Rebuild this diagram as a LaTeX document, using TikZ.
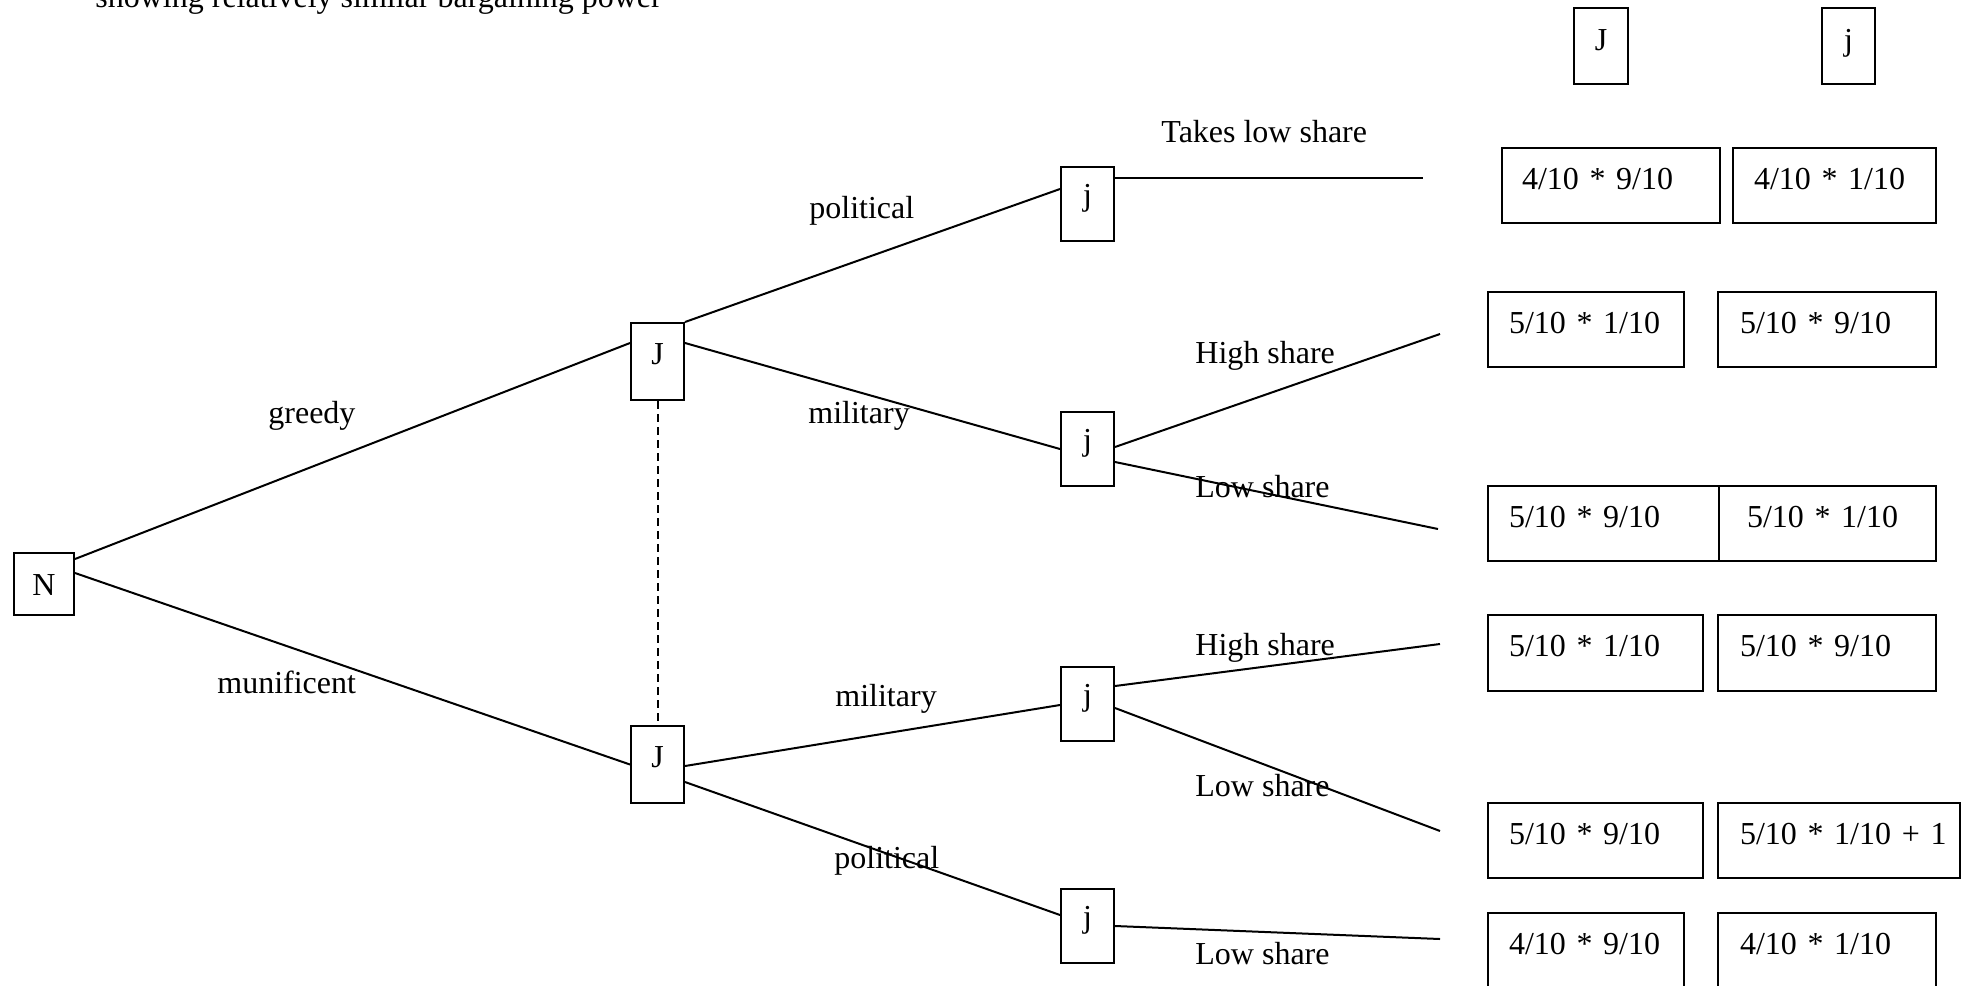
\documentclass[tikz,border=0pt]{standalone}
\usepackage{fontspec}
\setmainfont{Liberation Serif}
\usetikzlibrary{calc}
\tikzset{
  edge/.style={line width=1pt},
  infoset/.style={line width=1pt, dash pattern=on 4pt off 2.5pt},
  lbl/.style={anchor=base west, inner sep=0pt},
  player/.style={draw, line width=1pt, anchor=north west, inner sep=0pt},
  pbox/.style={player, minimum width=26.5pt, text height=20.5pt, text depth=18pt},
  jbox/.style={player, minimum width=26.5pt, text height=19pt, text depth=18pt},
  hbox/.style={player, minimum width=27pt, text height=21pt, text depth=17pt},
  pay/.style={draw, line width=1pt, anchor=north west, inner xsep=0pt, inner ysep=0pt,
    align=left, text height=20.5pt, text depth=17pt}
}
\begin{document}
\begin{tikzpicture}[x=0.5pt, y=-0.5pt, font=\fontsize{16pt}{19pt}\selectfont]
\useasboundingbox (0,0) rectangle (1964,985);
% top text
\node[lbl] (title) at (95,7) {showing relatively similar bargaining power};
% decision nodes
\node[player, minimum width=30pt, text height=21pt, text depth=10pt] (N) at (13,552) {N};
\node[pbox] (J1) at (630,322) {J};
\node[pbox] (J2) at (630,725) {J};
\node[jbox] (jPu) at (1060,166) {j};
\node[jbox] (jMu) at (1060,411) {j};
\node[jbox] (jMl) at (1060,666) {j};
\node[jbox] (jPl) at (1060,888) {j};
% header
\node[hbox] (hJ) at (1573,7) {J};
\node[hbox, minimum width=26.5pt] (hj) at (1821,7) {j};
% payoff boxes
\node[pay, text width=109pt] (r1a) at (1501,147) {\hspace*{10pt}\mbox{4/10 * 9/10}};
\node[pay, text width=101.5pt] (r1b) at (1732,147) {\hspace*{10.5pt}\mbox{4/10 * 1/10}};
\node[pay, text width=98pt] (r2a) at (1487,291) {\hspace*{10.5pt}\mbox{5/10 * 1/10}};
\node[pay, text width=109pt] (r2b) at (1717,291) {\hspace*{11pt}\mbox{5/10 * 9/10}};
\node[pay, text width=115.5pt] (r3a) at (1487,485) {\hspace*{10.5pt}\mbox{5/10 * 9/10}};
\node[pay, text width=108.5pt] (r3b) at (1718,485) {\hspace*{14pt}\mbox{5/10 * 1/10}};
\node[pay, text width=107.5pt, text depth=17.5pt] (r4a) at (1487,614) {\hspace*{10.5pt}\mbox{5/10 * 1/10}};
\node[pay, text width=109pt, text depth=17.5pt] (r4b) at (1717,614) {\hspace*{11pt}\mbox{5/10 * 9/10}};
\node[pay, text width=107.5pt] (r5a) at (1487,802) {\hspace*{10.5pt}\mbox{5/10 * 9/10}};
\node[pay, text width=121pt] (r5b) at (1717,802) {\hspace*{11pt}\mbox{5/10 * 1/10 + 1}};
\node[pay, text width=98pt] (r6a) at (1487,912) {\hspace*{10.5pt}\mbox{4/10 * 9/10}};
\node[pay, text width=109pt] (r6b) at (1717,912) {\hspace*{11pt}\mbox{4/10 * 1/10}};
% free ends
\coordinate (e1) at (1423,178);
\coordinate (e2) at (1440,334);
\coordinate (e3) at (1438,529);
\coordinate (e4) at (1440,644);
\coordinate (e5) at (1440,831);
\coordinate (e6) at (1440,939);
% edges
\draw[edge] ($(N.north east)+(0,7)$) -- ($(J1.north west)+(0,21)$);
\draw[edge] ($(N.north east)+(0,21)$) -- (J2.west);
\draw[edge] (J1.north east) -- ($(jPu.north west)+(0,23)$);
\draw[edge] ($(J1.north east)+(0,21)$) -- (jMu.west);
\draw[edge] ($(J2.north east)+(0,41)$) -- ($(jMl.north west)+(0,39)$);
\draw[edge] ($(J2.north east)+(0,57)$) -- ($(jPl.north west)+(0,27)$);
\draw[infoset] (J1.south) -- (J2.north);
\draw[edge] ($(jPu.north east)+(0,12)$) -- (e1);
\draw[edge] ($(jMu.north east)+(0,36)$) -- (e2);
\draw[edge] ($(jMu.north east)+(0,51)$) -- (e3);
\draw[edge] ($(jMl.north east)+(0,20)$) -- (e4);
\draw[edge] ($(jMl.north east)+(0,42)$) -- (e5);
\draw[edge] ($(jPl.north east)+(0,38)$) -- (e6);
% labels
\node[lbl] (lg) at (268,423) {greedy};
\node[lbl] (lm) at (217,693) {munificent};
\node[lbl] (lpu) at (809,218) {political};
\node[lbl] (lmu) at (808,423) {military};
\node[lbl] (lml) at (835,706) {military};
\node[lbl] (lpl) at (834,868) {political};
\node[lbl] (lt) at (1161,142) {Takes low share};
\node[lbl] (lh1) at (1195,363) {High share};
\node[lbl] (ll1) at (1195,497) {Low share};
\node[lbl] (lh2) at (1195,655) {High share};
\node[lbl] (ll2) at (1195,796) {Low share};
\node[lbl] (ll3) at (1195,964) {Low share};
\end{tikzpicture}
\end{document}
